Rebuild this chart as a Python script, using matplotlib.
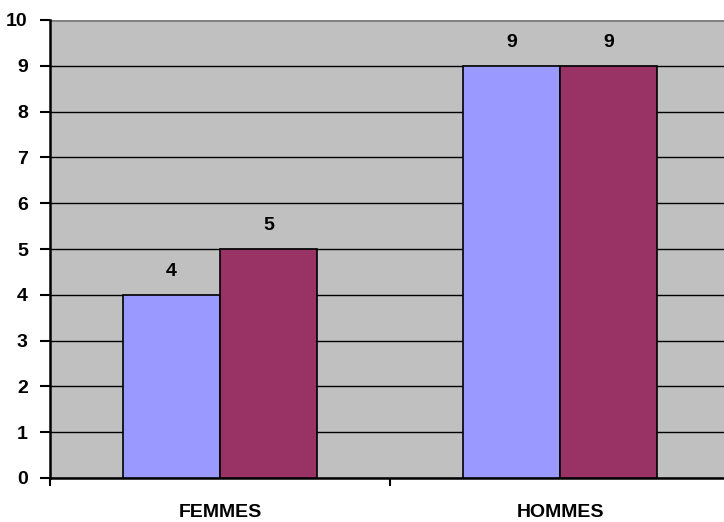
import numpy as np
import matplotlib.pyplot as plt

plt.rcParams['font.family'] = ['Liberation Sans', 'DejaVu Sans']

categories = ['FEMMES', 'HOMMES']
serie1 = [4, 9]
serie2 = [5, 9]
yticks = list(range(0, 11))

fig = plt.figure(figsize=(7.24, 5.22), dpi=100)
# plot area runs a bit past the right edge of the picture, like the original
ax = fig.add_axes([50/724, 44/522, 680/724, 458/522])
ax.set_facecolor('#C0C0C0')

x = np.arange(len(categories))
w = 1/3.5
b1 = ax.bar(x - w/2, serie1, w, color='#9999FF', edgecolor='black', linewidth=1.2, zorder=3)
b2 = ax.bar(x + w/2, serie2, w, color='#993366', edgecolor='black', linewidth=1.2, zorder=3)

for bars, vals in [(b1, serie1), (b2, serie2)]:
    for r, v in zip(bars, vals):
        ax.annotate(str(v), (r.get_x() + r.get_width()/2, v), xytext=(0, 11),
                    textcoords='offset points', ha='center', va='bottom',
                    fontsize=14, fontweight='bold')

ax.set_xlim(-0.5, 1.5)
ax.set_ylim(0, 10)
ax.set_yticks(yticks)
ax.set_yticklabels([str(t) for t in yticks], fontsize=14, fontweight='bold')
ax.set_xticks(x)
ax.set_xticklabels(categories, fontsize=14, fontweight='bold')
ax.set_xticks([-0.5, 0.5, 1.5], minor=True)
ax.tick_params(axis='x', which='major', length=0, pad=19)
ax.tick_params(axis='x', which='minor', length=6, width=1.5, direction='out')
ax.tick_params(axis='y', length=7, width=1.5, direction='out', pad=9)

ax.grid(axis='y', color='black', linewidth=1.0, zorder=1)
ax.set_axisbelow(True)
for s in ['top', 'right']:
    ax.spines[s].set_visible(False)
ax.spines['left'].set_linewidth(1.8)
ax.spines['bottom'].set_linewidth(1.8)
ax.axhline(10, color='#808080', linewidth=2, zorder=2)

fig.savefig('out.png', dpi=100)
